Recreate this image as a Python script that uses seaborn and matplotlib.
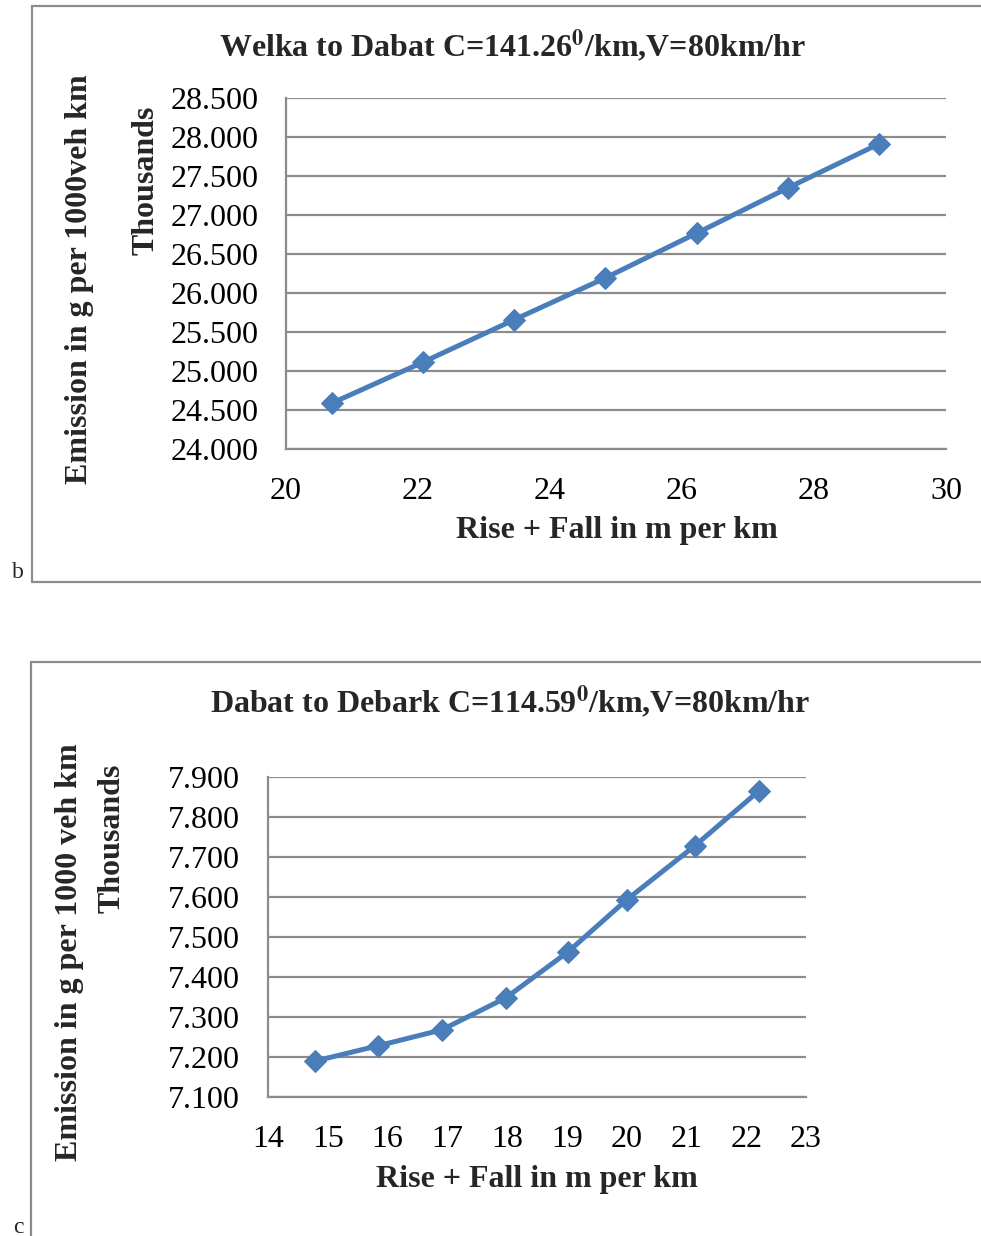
import matplotlib
matplotlib.use("Agg")
import matplotlib.pyplot as plt
from matplotlib.lines import Line2D
from matplotlib.ticker import FormatStrFormatter, MultipleLocator
import seaborn as sns
import pandas as pd

# Welka to Dabat (emission shown in thousands of g per 1000 veh km)
rf_welka = [20.70, 22.08, 23.45, 24.83, 26.23, 27.61, 28.98]
em_welka = [24.590, 25.115, 25.654, 26.190, 26.770, 27.350, 27.910]

# Dabat to Debark
rf_dabat = [14.79, 15.84, 16.91, 17.98, 19.02, 20.00, 21.14, 22.21]
em_dabat = [7.190, 7.228, 7.268, 7.348, 7.463, 7.593, 7.728, 7.865]

sns.set_theme(style="white")
plt.rcParams["font.family"] = ["Liberation Serif", "DejaVu Serif"]
plt.rcParams["mathtext.fontset"] = "stix"

W, H = 981, 1236
fig = plt.figure(figsize=(W / 100, H / 100), dpi=100)

LINE = "#4a7ebb"
GRID = "#8c8c8c"
TICK_FS = 23
LAB_FS = 23


def px(x, y):
    return x / W, 1 - y / H


def frame(ax, xlim, xstep, ylim, ystep):
    ax.set_xlim(*xlim)
    ax.set_ylim(*ylim)
    ax.xaxis.set_major_locator(MultipleLocator(xstep))
    ax.yaxis.set_major_locator(MultipleLocator(ystep))
    ax.yaxis.set_major_formatter(FormatStrFormatter("%.3f"))
    ax.grid(axis="y", color=GRID, linewidth=1.6)
    ax.grid(axis="x", visible=False)
    for s in ("top", "right"):
        ax.spines[s].set_visible(False)
    for s in ("left", "bottom"):
        ax.spines[s].set_color(GRID)
        ax.spines[s].set_linewidth(1.6)
    ax.tick_params(axis="both", length=0, labelsize=TICK_FS, colors="black")
    ax.tick_params(axis="y", pad=20)
    ax.tick_params(axis="x", pad=20)
    ax.set_xlabel("")
    ax.set_ylabel("")


def series(ax, x, y):
    df = pd.DataFrame({"x": x, "y": y})
    sns.lineplot(data=df, x="x", y="y", ax=ax, color=LINE, linewidth=3.6,
                 marker="D", markersize=11, markeredgecolor=LINE, legend=False)


# Panel b
ax1 = fig.add_axes([286 / W, 1 - 449 / H, 660 / W, 351 / H])
series(ax1, rf_welka, em_welka)
frame(ax1, (20, 30), 2, (24.0, 28.5), 0.5)

# Panel c
ax2 = fig.add_axes([268 / W, 1 - 1097 / H, 538 / W, 320 / H])
series(ax2, rf_dabat, em_dabat)
frame(ax2, (14, 23), 1, (7.1, 7.9), 0.1)

# Titles and axis labels
fig.text(*px(512, 46), r"Welka to Dabat C=141.26$^{\mathbf{0}}$/km,V=80km/hr",
         ha="center", va="center", fontsize=LAB_FS, fontweight="bold")
fig.text(*px(617, 531), "Rise + Fall in m per km", ha="center", va="center",
         fontsize=LAB_FS, fontweight="bold")
fig.text(*px(80, 279), "Emission in g per 1000veh km", ha="center", va="center",
         rotation=90, fontsize=LAB_FS, fontweight="bold")
fig.text(*px(146, 180), "Thousands", ha="center", va="center",
         rotation=90, fontsize=LAB_FS, fontweight="bold")

fig.text(*px(510, 702), r"Dabat to Debark C=114.59$^{\mathbf{0}}$/km,V=80km/hr",
         ha="center", va="center", fontsize=LAB_FS, fontweight="bold")
fig.text(*px(537, 1180), "Rise + Fall in m per km", ha="center", va="center",
         fontsize=LAB_FS, fontweight="bold")
fig.text(*px(70, 952), "Emission in g per 1000 veh km", ha="center", va="center",
         rotation=90, fontsize=LAB_FS, fontweight="bold")
fig.text(*px(112, 838), "Thousands", ha="center", va="center",
         rotation=90, fontsize=LAB_FS, fontweight="bold")

# Panel letters
fig.text(*px(18, 573), "b", ha="center", va="center", fontsize=17)
fig.text(*px(18, 1233), "c", ha="center", va="baseline", fontsize=17)

# Chart-area borders
BOX = "#8c8c8c"
for xs, ys in [
    ([32, 32], [6, 582]), ([32, 981], [6, 6]), ([32, 981], [582, 582]),
    ([31, 31], [662, 1236]), ([31, 981], [662, 662]),
]:
    fig.add_artist(Line2D([x / W for x in xs], [1 - y / H for y in ys],
                          color=BOX, linewidth=1.6))

fig.savefig("out.png", dpi=100, facecolor="white")
